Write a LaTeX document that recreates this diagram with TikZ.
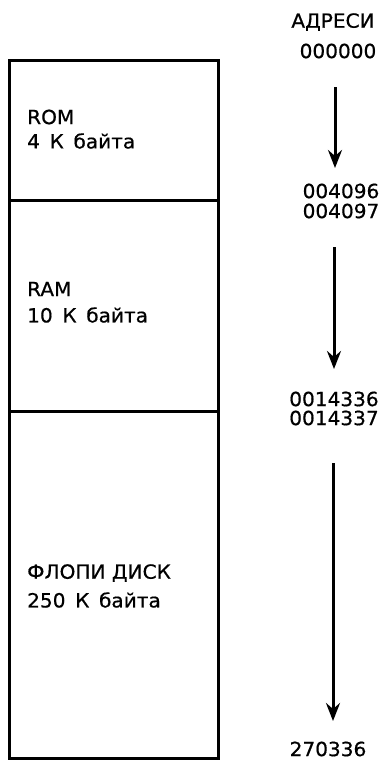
\documentclass[tikz,border=0pt]{standalone}
\usepackage{fontspec}
\setmainfont{DejaVu Sans}[FakeStretch=1.03,FakeBold=0.6]
\usetikzlibrary{arrows.meta}
\begin{document}
\begin{tikzpicture}[x=1pt,y=-1pt,
  lbl/.style={anchor=west,inner sep=0pt,font=\fontsize{19.5}{22}\selectfont},
  addr/.style={inner sep=0pt,font=\fontsize{19.5}{22}\selectfont},
  blk/.style={draw,line width=3pt},
  flow/.style={line width=3pt,-{Stealth[length=18pt,width=14pt,inset=6pt]}}]
\useasboundingbox (0,0) rectangle (380,761);
\draw[blk] (9,60) rectangle (218,200);
\draw[blk] (9,200) rectangle (218,411);
\draw[blk] (9,411) rectangle (218,758);
\node[lbl] (rom) at (27,117) {ROM};
\node[lbl] (romk) at (27,141) {4\, К\, байта};
\node[lbl] (ram) at (27,289) {RAM};
\node[lbl] (ramk) at (27,315) {10\, К\, байта};
\node[lbl] (fd) at (27,573) {ФЛОПИ ДИСК};
\node[lbl] (fdk) at (27,600) {250\, К\, байта};
\node[addr] (hdr) at (333,22) {АДРЕСИ};
\node[addr] (a0) at (338,51) {000000};
\node[addr] (a1) at (341,191) {004096};
\node[addr] (a2) at (341,211) {004097};
\node[addr] (a3) at (334,399) {0014336};
\node[addr] (a4) at (334,418) {0014337};
\node[addr] (a5) at (328,749) {270336};
\coordinate (s1) at (335,87); \coordinate (e1) at (335,168);
\coordinate (s2) at (334,247); \coordinate (e2) at (334,369);
\coordinate (s3) at (333,463); \coordinate (e3) at (333,721);
\draw[flow] (s1) -- (e1);
\draw[flow] (s2) -- (e2);
\draw[flow] (s3) -- (e3);
\end{tikzpicture}
\end{document}
